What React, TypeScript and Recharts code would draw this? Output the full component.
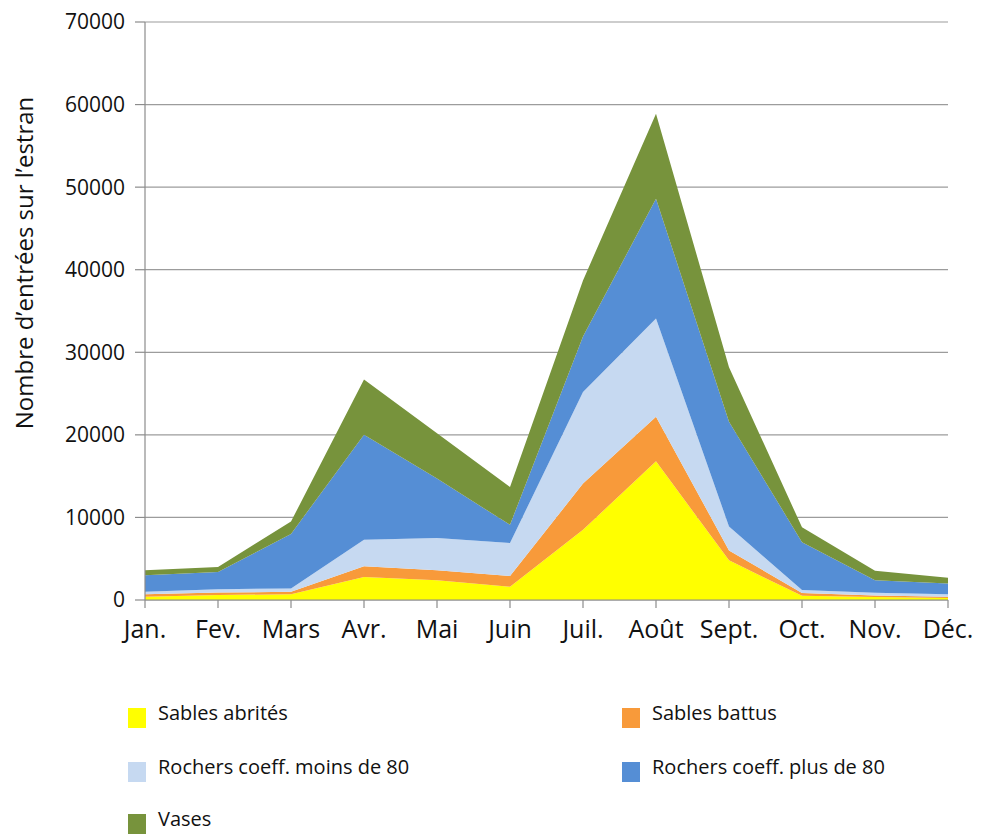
import { AreaChart, Area, XAxis, YAxis, CartesianGrid } from 'recharts'

const months = ['Jan.', 'Fev.', 'Mars', 'Avr.', 'Mai', 'Juin', 'Juil.', 'Août', 'Sept.', 'Oct.', 'Nov.', 'Déc.']

// valeurs par milieu (empilées dans cet ordre)
const sablesAbrites = [400, 600, 700, 2800, 2400, 1600, 8500, 16800, 4800, 500, 360, 240]
const sablesBattus = [300, 300, 300, 1300, 1200, 1300, 5600, 5400, 1200, 350, 200, 160]
const rochersMoins80 = [300, 400, 400, 3200, 3900, 4000, 11100, 11900, 2900, 350, 330, 290]
const rochersPlus80 = [2000, 2100, 6600, 12700, 7200, 2200, 6700, 14500, 12700, 5800, 1510, 1310]
const vases = [600, 600, 1500, 6700, 5500, 4600, 6800, 10300, 6600, 1800, 1150, 700]

const yTicks = [0, 10000, 20000, 30000, 40000, 50000, 60000, 70000]

const series = [
  { key: 'abrites', name: 'Sables abrités', color: '#FFFF00', values: sablesAbrites },
  { key: 'battus', name: 'Sables battus', color: '#F89A3A', values: sablesBattus },
  { key: 'moins80', name: 'Rochers coeff. moins de 80', color: '#C6D9F1', values: rochersMoins80 },
  { key: 'plus80', name: 'Rochers coeff. plus de 80', color: '#558ED5', values: rochersPlus80 },
  { key: 'vases', name: 'Vases', color: '#77933C', values: vases },
]

const data = months.map((month, i) => {
  const row: Record<string, string | number> = { month }
  series.forEach((s) => {
    row[s.key] = s.values[i]
  })
  return row
})

const font = '"Open Sans", "Noto Sans", sans-serif'

const legendItems = [
  { s: series[0], left: 128, top: 706 },
  { s: series[1], left: 622, top: 706 },
  { s: series[2], left: 128, top: 760 },
  { s: series[3], left: 622, top: 760 },
  { s: series[4], left: 128, top: 812 },
]

export default function App() {
  return (
    <div
      style={{
        position: 'absolute',
        left: 0,
        top: 0,
        width: 986,
        height: 834,
        background: '#fff',
        fontFamily: font,
        overflow: 'hidden',
      }}
    >
      <AreaChart width={986} height={660} data={data} margin={{ top: 22, right: 38, left: 0, bottom: 0 }}>
        <CartesianGrid vertical={false} stroke="#9c9c9c" strokeWidth={1.2} />
        <XAxis
          dataKey="month"
          height={60}
          interval={0}
          tickSize={8}
          tickMargin={12}
          axisLine={{ stroke: '#8c8c8c', strokeWidth: 1.2 }}
          tickLine={{ stroke: '#8c8c8c', strokeWidth: 1.2 }}
          tick={{ fontSize: 25, fill: '#111', fontFamily: font }}
        />
        <YAxis
          width={145}
          domain={[0, 70000]}
          ticks={yTicks}
          interval={0}
          tickSize={10}
          tickMargin={10}
          axisLine={{ stroke: '#8c8c8c', strokeWidth: 1.2 }}
          tickLine={{ stroke: '#8c8c8c', strokeWidth: 1.2 }}
          tick={{ fontSize: 21, fill: '#111', fontFamily: font }}
        />
        {series.map((s) => (
          <Area
            key={s.key}
            type="linear"
            dataKey={s.key}
            name={s.name}
            stackId="1"
            stroke="none"
            fill={s.color}
            fillOpacity={1}
            dot={false}
            activeDot={false}
            isAnimationActive={false}
          />
        ))}
      </AreaChart>

      <div
        style={{
          position: 'absolute',
          left: 24 - 200,
          top: 263 - 16,
          width: 400,
          lineHeight: '32px',
          textAlign: 'center',
          fontSize: 24,
          color: '#111',
          transform: 'rotate(-90deg)',
        }}
      >
        Nombre d’entrées sur l’estran
      </div>

      {legendItems.map(({ s, left, top }) => (
        <div key={s.key} style={{ position: 'absolute', left, top, height: 22 }}>
          <div
            style={{
              position: 'absolute',
              left: 0,
              top: 2,
              width: 18,
              height: 20,
              background: s.color,
            }}
          />
          <div
            style={{
              position: 'absolute',
              left: 30,
              top: -7,
              whiteSpace: 'nowrap',
              fontSize: 20,
              lineHeight: '27px',
              color: '#111',
            }}
          >
            {s.name}
          </div>
        </div>
      ))}
    </div>
  )
}
